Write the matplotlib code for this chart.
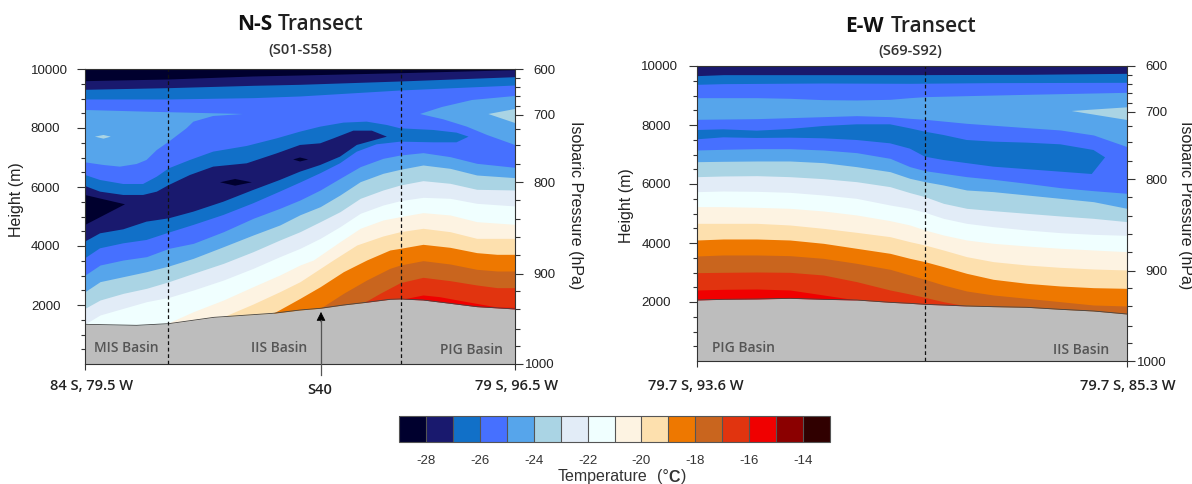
import matplotlib
matplotlib.use("Agg")
import matplotlib.pyplot as plt
from matplotlib.colors import ListedColormap, BoundaryNorm
from matplotlib.cm import ScalarMappable

plt.rcParams["font.family"] = ["Liberation Sans", "DejaVu Sans"]
plt.rcParams["axes.unicode_minus"] = False

W, H = 1192, 484
colors = ["#00002e", "#19196e", "#1170c8", "#4670ff", "#56a5eb", "#aad4e4", "#e2ecf7", "#f0ffff",
          "#fdf3e2", "#fde0ae", "#ee7800", "#c9651e", "#e1340f", "#f00000", "#8b0000", "#300000"]
c0, c1, c2, c3, c4, c5, c6, c7, c8, c9, c10, c11, c12, c13, c14, c15 = colors
levels = list(range(-29, -12))
bar_ticks = [-28, -26, -24, -22, -20, -18, -16, -14]

height_ticks = [2000, 4000, 6000, 8000, 10000]
height_minor = [500, 1000, 1500, 2500, 3000, 3500, 4500, 5000, 5500, 6500, 7000, 7500, 8500, 9000, 9500]
press_labels = ["600", "700", "800", "900", "1000"]
press_heights = [10000, 8450, 6165, 3065, 0]
press_minor = [9700, 9380, 9070, 8760, 7970, 7410, 6790, 5545, 4925, 4305, 3685, 2470, 1850, 1200, 610]

# N-S transect, isotherm heights (m) against distance along the transect (0-1)
ns_x_ground = [0, .12, .195, .3, .437, .5, .547, .601, .648, .709, .733, .786, .849, .911, 1]
ns_ground = [1345, 1311, 1368, 1582, 1718, 1831, 1888, 2000, 2080, 2193, 2204, 2170, 2057, 1944, 1865]

ns_x_top = [0, .195, .391, .5, .733, 1]
ns_c0c1 = [9605, 9662, 9764, 9797, 9875, 9977]
ns_c1c2 = [9312, 9368, 9447, 9481, 9594, 9740]
ns_c2c3 = [8984, 8984, 9029, 9086, 9289, 9458]

ns_c4a_x = [0, .143, .368, .298, .252, .236, .195, .167, .143, .12, .081, .043, 0]
ns_c4a_h = [8611, 8554, 8475, 8408, 8215, 7990, 7537, 7255, 6916, 6780, 6690, 6746, 6837]
ns_c4b_x = [.779, .83, .9, 1, 1, .935, .888, .833, .779]
ns_c4b_h = [8475, 8712, 8950, 9085, 7424, 7764, 8046, 8295, 8475]
ns_c5a_x = [.023, .043, .06, .043]
ns_c5a_h = [7707, 7764, 7707, 7639]
ns_c5b_x = [.938, 1, 1]
ns_c5b_h = [8475, 8644, 8170]

ns_c2_x = [0, .035, .089, .135, .167, .195, .244, .298, .376, .446, .5, .547, .601, .655, .702, .733, .81, .864, .892,
           .864, .81, .733, .678, .632, .593, .547, .5, .453, .391, .322, .252, .195, .143, .089, .035, 0]
ns_c2_h = [6408, 6238, 6102, 6102, 6351, 6634, 6916, 7199, 7391, 7650, 7876, 8046, 8182, 8216, 8102, 7990, 7933, 7843, 7707,
           7515, 7515, 7537, 7447, 7198, 6803, 6464, 6148, 5842, 5447, 5052, 4713, 4453, 4204, 4091, 3922, 3582]
ns_c1_x = [0, .035, .089, .135, .167, .195, .244, .298, .376, .446, .5, .547, .578, .624, .667, .702,
           .632, .593, .547, .5, .453, .391, .322, .252, .195, .143, .089, .035, 0]
ns_c1_h = [6035, 5842, 5730, 5730, 5842, 6068, 6407, 6690, 6803, 7142, 7425, 7481, 7650, 7910, 7910, 7707,
           7425, 7029, 6746, 6520, 6238, 5899, 5504, 5165, 4939, 4826, 4566, 4430, 4148]
ns_c0a_x = [0, .093, 0]
ns_c0a_h = [5729, 5414, 4712]
ns_c0b_x = [.314, .349, .388, .349]
ns_c0b_h = [6160, 6272, 6160, 6045]
ns_c0c_x = [.484, .5, .519, .5]
ns_c0c_h = [6933, 7000, 6933, 6865]

ns_x_stack = [0, .035, .089, .143, .195, .252, .322, .391, .453, .5, .547, .593, .64, .693, .733, .786, .849, .911, 1]
ns_c3c4 = [3017, 3356, 3526, 3639, 3921, 4091, 4486, 4939, 5278, 5560, 5899, 6294, 6690, 6972, 7085, 7165, 7029, 6803, 6667]
ns_c4c5 = [2453, 2792, 2961, 3130, 3323, 3583, 3978, 4374, 4713, 5060, 5334, 5730, 6181, 6464, 6600, 6746, 6633, 6407, 6317]
ns_c5c6 = [1888, 2170, 2396, 2566, 2791, 3074, 3413, 3809, 4204, 4486, 4825, 5164, 5616, 5899, 6069, 6215, 6125, 5922, 5899]
ns_c6c7 = [1356, 1662, 1888, 2113, 2260, 2509, 2848, 3243, 3639, 3921, 4260, 4656, 5108, 5390, 5537, 5650, 5617, 5447, 5357]
ns_c7c8_x = [.195, .252, .322, .391, .453, .5, .531, .593, .64, .693, .733, .786, .849, .911, 1]
ns_c7c8 = [1402, 1774, 2170, 2622, 3017, 3356, 3526, 4147, 4600, 4882, 4995, 5131, 5052, 4825, 4735]
ns_c8c9_x = [.322, .391, .453, .5, .577, .632, .693, .733, .786, .849, .911, 1]
ns_c8c9 = [1605, 2034, 2452, 2791, 3526, 4035, 4340, 4486, 4600, 4486, 4260, 4260]
ns_c9c10_x = [.437, .468, .5, .547, .601, .655, .709, .733, .786, .849, .911, .958, 1]
ns_c9c10 = [1718, 1967, 2226, 2622, 3131, 3526, 3865, 3921, 4057, 3955, 3775, 3718, 3718]
ns_c10c11_x = [.547, .601, .655, .709, .733, .786, .849, .911, .958, 1]
ns_c10c11 = [1888, 2396, 2848, 3243, 3356, 3503, 3390, 3210, 3153, 3153]
ns_c11c12_x = [.648, .686, .733, .786, .849, .911, .958, 1]
ns_c11c12 = [2080, 2396, 2758, 2938, 2825, 2679, 2588, 2588]
ns_c12c13_x = [.74, .786, .824, .888, .958, 1]
ns_c12c13 = [2204, 2340, 2283, 2113, 1933, 1921]

# E-W transect
ew_x = [0, .061, .139, .216, .294, .371, .449, .495, .53, .573, .627, .689, .767, .845, .922, 1]
ew_ground = [2068, 2091, 2102, 2125, 2091, 2068, 1989, 1955, 1921, 1898, 1865, 1842, 1820, 1752, 1695, 1593]
ew_c1c2_x = [0, .061, .294, .495, .767, 1]
ew_c1c2 = [9673, 9707, 9707, 9707, 9718, 9752]
ew_c2c3_x = [0, .061, .294, .495, .689, 1]
ew_c2c3 = [9379, 9402, 9424, 9413, 9436, 9447]
ew_c3c4_x = [0, .139, .216, .294, .371, .449, .495, .53, .627, .767, .922, 1]
ew_c3c4 = [8927, 8927, 8905, 8859, 8848, 8871, 8927, 8961, 8995, 9040, 9085, 9108]
ew_c5_x = [.871, 1, 1]
ew_c5_h = [8475, 8599, 8170]
ew_c3top_x = [0, .139, .216, .294, .371, .449, .495, .53, .627, .767, .845, .922, 1]
ew_c3top = [8193, 8215, 8249, 8283, 8317, 8283, 8226, 8193, 8057, 7910, 7831, 7662, 7266]
ew_c2lens_x = [0, .061, .139, .216, .294, .371, .449, .495, .53, .573, .627, .689, .767, .845, .922, .949,
               .918, .845, .689, .573, .53, .495, .449, .371, .294, .216, .139, .061, 0]
ew_c2lens_h = [7831, 7854, 7808, 7865, 7967, 8023, 8023, 7888, 7775, 7662, 7492, 7436, 7402, 7345, 7153, 6904,
               6339, 6418, 6588, 6814, 6927, 7200, 7379, 7492, 7549, 7571, 7560, 7582, 7515]
ew_c3c4b = [7153, 7176, 7198, 7198, 7153, 7063, 6870, 6588, 6452, 6362, 6249, 6159, 6023, 5876, 5774, 5684]
ew_c4c5 = [6757, 6769, 6780, 6780, 6724, 6588, 6418, 6192, 6079, 5966, 5797, 5741, 5628, 5514, 5401, 5175]
ew_c5c6 = [6249, 6272, 6283, 6249, 6181, 6079, 5910, 5707, 5571, 5345, 5176, 5096, 5006, 4916, 4836, 4724]
ew_c6c7 = [5741, 5763, 5752, 5718, 5627, 5514, 5288, 5175, 5040, 4836, 4667, 4554, 4441, 4351, 4294, 4260]
ew_c7c8 = [5232, 5232, 5209, 5175, 5085, 4950, 4757, 4611, 4441, 4271, 4102, 3989, 3899, 3820, 3763, 3706]
ew_c8c9 = [4667, 4667, 4667, 4611, 4497, 4362, 4215, 4045, 3932, 3763, 3537, 3368, 3254, 3175, 3119, 3085]
ew_c9c10 = [4102, 4136, 4136, 4102, 3989, 3820, 3650, 3480, 3368, 3198, 2972, 2769, 2633, 2543, 2486, 2463]
ew_c10c11 = [3560, 3594, 3594, 3571, 3480, 3311, 3108, 2915, 2769, 2576, 2373, 2238, 2125, 2011, 1898, 1865]
ew_c11c12_x = [0, .061, .139, .216, .294, .371, .449, .495, .53, .573, .627]
ew_c11c12 = [2995, 3006, 3017, 3006, 2915, 2690, 2407, 2271, 2158, 2011, 1865]
ew_c12c13_x = [0, .061, .139, .216, .294, .371]
ew_c12c13 = [2407, 2430, 2441, 2407, 2238, 2068]


def px_axes(fig, l, t, r, b):
    return fig.add_axes([l / W, 1 - b / H, (r - l) / W, (b - t) / H])


def below(ax, x, h, color):
    ax.fill_between(x, 0, h, color=color, lw=0)


def frame(ax, dashes, left_pad):
    ax.set_xlim(0, 1)
    ax.set_ylim(0, 10000)
    ax.set_xticks([0, 1])
    ax.set_xticklabels([])
    ax.set_yticks(height_ticks)
    ax.set_yticks(height_minor, minor=True)
    ax.tick_params(axis="x", which="major", length=4.5, width=.8, color="#333333")
    ax.tick_params(axis="y", which="major", length=6, width=.8, color="#333333", labelsize=9.5,
                   pad=left_pad, labelcolor="#222222")
    ax.tick_params(axis="y", which="minor", length=3, width=.8, color="#333333")
    for lb in ax.get_yticklabels():
        lb.set_horizontalalignment("left")
    for x in dashes:
        ax.plot([x, x], [0, 10000], color="#111111", lw=.9, ls=(0, (3, 2.2)))
    for s in ax.spines.values():
        s.set_linewidth(.8)
        s.set_color("#333333")
    r = ax.twinx()
    r.set_ylim(0, 10000)
    r.set_yticks(press_heights)
    r.set_yticklabels(press_labels, fontsize=9.5, color="#222222", ha="right")
    r.set_yticks(press_minor, minor=True)
    r.tick_params(axis="y", which="major", length=6, width=.8, pad=22.8, color="#333333")
    r.tick_params(axis="y", which="minor", length=3.5, width=.8, color="#333333")
    for s in r.spines.values():
        s.set_visible(False)


fig = plt.figure(figsize=(W / 100, H / 100), dpi=100)

# left panel
ax = px_axes(fig, 85, 69, 515, 364)
ax.set_facecolor(c0)
below(ax, ns_x_top, ns_c0c1, c1)
below(ax, ns_x_top, ns_c1c2, c2)
below(ax, ns_x_top, ns_c2c3, c3)
ax.fill(ns_c4a_x, ns_c4a_h, color=c4, lw=0)
ax.fill(ns_c4b_x, ns_c4b_h, color=c4, lw=0)
ax.fill(ns_c5a_x, ns_c5a_h, color=c5, lw=0)
ax.fill(ns_c5b_x, ns_c5b_h, color=c5, lw=0)
ax.fill(ns_c2_x, ns_c2_h, color=c2, lw=0)
ax.fill(ns_c1_x, ns_c1_h, color=c1, lw=0)
ax.fill(ns_c0a_x, ns_c0a_h, color=c0, lw=0)
ax.fill(ns_c0b_x, ns_c0b_h, color=c0, lw=0)
ax.fill(ns_c0c_x, ns_c0c_h, color=c0, lw=0)
below(ax, ns_x_stack, ns_c3c4, c4)
below(ax, ns_x_stack, ns_c4c5, c5)
below(ax, ns_x_stack, ns_c5c6, c6)
below(ax, ns_x_stack, ns_c6c7, c7)
below(ax, ns_c7c8_x, ns_c7c8, c8)
below(ax, ns_c8c9_x, ns_c8c9, c9)
below(ax, ns_c9c10_x, ns_c9c10, c10)
below(ax, ns_c10c11_x, ns_c10c11, c11)
below(ax, ns_c11c12_x, ns_c11c12, c12)
below(ax, ns_c12c13_x, ns_c12c13, c13)
below(ax, ns_x_ground, ns_ground, "#bdbdbd")
ax.plot(ns_x_ground, ns_ground, color="#444444", lw=.6)
frame(ax, [.194, .734], 33)

# right panel
ax2 = px_axes(fig, 697, 66, 1127, 361)
ax2.set_facecolor(c1)
below(ax2, ew_c1c2_x, ew_c1c2, c2)
below(ax2, ew_c2c3_x, ew_c2c3, c3)
below(ax2, ew_c3c4_x, ew_c3c4, c4)
ax2.fill(ew_c5_x, ew_c5_h, color=c5, lw=0)
below(ax2, ew_c3top_x, ew_c3top, c3)
ax2.fill(ew_c2lens_x, ew_c2lens_h, color=c2, lw=0)
below(ax2, ew_x, ew_c3c4b, c4)
below(ax2, ew_x, ew_c4c5, c5)
below(ax2, ew_x, ew_c5c6, c6)
below(ax2, ew_x, ew_c6c7, c7)
below(ax2, ew_x, ew_c7c8, c8)
below(ax2, ew_x, ew_c8c9, c9)
below(ax2, ew_x, ew_c9c10, c10)
below(ax2, ew_x, ew_c10c11, c11)
below(ax2, ew_c11c12_x, ew_c11c12, c12)
below(ax2, ew_c12c13_x, ew_c12c13, c13)
below(ax2, ew_x, ew_ground, "#bdbdbd")
ax2.plot(ew_x, ew_ground, color="#444444", lw=.6)
frame(ax2, [.53], 34)


def txt(x, y, s, **kw):
    kw.setdefault("ha", "center")
    kw.setdefault("va", "center")
    fig.text(x / W, 1 - y / H, s, **kw)


os_font = ["Open Sans", "DejaVu Sans"]
txt(272, 25, "N-S", ha="right", family=os_font, fontsize=15, fontweight="bold", color="#111111")
txt(278, 25, "Transect", ha="left", family=os_font, fontsize=15, fontweight="semibold", color="#222222")
txt(300, 50, "(S01-S58)", family=os_font, fontsize=10.5, fontweight="semibold", color="#333333")
txt(884, 26, "E-W", ha="right", family=os_font, fontsize=15, fontweight="bold", color="#111111")
txt(891, 26, "Transect", ha="left", family=os_font, fontsize=15, fontweight="semibold", color="#222222")
txt(910, 51, "(S69-S92)", family=os_font, fontsize=10.5, fontweight="semibold", color="#333333")

txt(17, 200, "Height (m)", rotation=90, fontsize=11.5, color="#222222")
txt(575, 205, "Isobaric Pressure (hPa)", rotation=270, fontsize=11.5, color="#222222")
txt(626, 206, "Height (m)", rotation=90, fontsize=11.5, color="#222222")
txt(1185, 205, "Isobaric Pressure (hPa)", rotation=270, fontsize=11.5, color="#222222")

lab = dict(family=os_font, fontsize=10, fontweight="semibold", color="#555555")
txt(126, 348, "MIS Basin", **lab)
txt(279, 348, "IIS Basin", **lab)
txt(471, 350, "PIG Basin", **lab)
txt(743, 348, "PIG Basin", **lab)
txt(1081, 350, "IIS Basin", **lab)

loc = dict(family=os_font, fontsize=10.5, fontweight="semibold", color="#222222")
txt(92, 386, "84 S, 79.5 W", **loc)
txt(517, 386, "79 S, 96.5 W", **loc)
txt(320, 390, "S40", **loc)
txt(696, 386, "79.7 S, 93.6 W", **loc)
txt(1128, 386, "79.7 S, 85.3 W", **loc)

fig.add_artist(plt.Line2D([321 / W, 321 / W], [1 - 375 / H, 1 - 320 / H], color="#555555", lw=.9))
ax.annotate("", xy=(321 / W, 1 - 312 / H), xytext=(321 / W, 1 - 322 / H), xycoords="figure fraction",
            textcoords="figure fraction", annotation_clip=False,
            arrowprops=dict(arrowstyle="-|>,head_width=.28,head_length=.55", color="black", lw=.5,
                            shrinkA=0, shrinkB=0, mutation_scale=10))

# colorbar
cax = px_axes(fig, 399, 416, 830, 442)
norm = BoundaryNorm(levels, len(colors))
cb = fig.colorbar(ScalarMappable(norm=norm, cmap=ListedColormap(colors)), cax=cax, orientation="horizontal",
                  spacing="uniform", drawedges=True)
cb.set_ticks(bar_ticks)
cb.ax.tick_params(length=0, labelsize=9.5, pad=9, labelcolor="#333333", which="both")
cb.ax.minorticks_off()
cb.outline.set_edgecolor("#555555")
cb.outline.set_linewidth(.8)
cb.dividers.set_color("#555555")
cb.dividers.set_linewidth(.8)
txt(602, 477, "Temperature", fontsize=11.5, color="#333333")
txt(657, 477, "(\u00b0", ha="left", fontsize=11.5, color="#333333")
txt(668, 477, "C", ha="left", fontsize=11.5, fontweight="bold", color="#333333")
txt(681, 477, ")", ha="left", fontsize=11.5, color="#333333")

fig.savefig("out.png", dpi=100)
